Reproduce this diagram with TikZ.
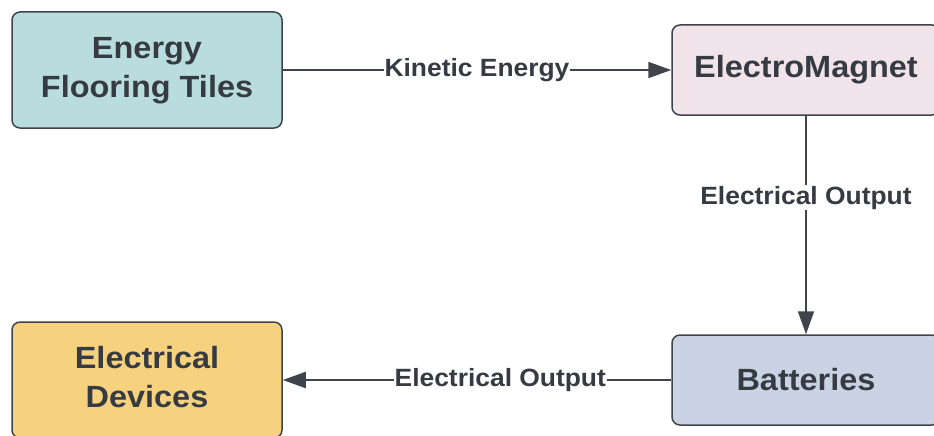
\documentclass[tikz,border=0pt]{standalone}
\usepackage{fontspec}
\setmainfont{Liberation Sans}
\usetikzlibrary{arrows.meta}
\definecolor{tealfill}{HTML}{B9DDDE}
\definecolor{pinkfill}{HTML}{F0E4EA}
\definecolor{yellowfill}{HTML}{F6D27F}
\definecolor{bluefill}{HTML}{CAD3E4}
\definecolor{edgegray}{HTML}{3F444C}
\definecolor{txtgray}{HTML}{363A42}
\newcommand{\hstretch}[1]{\scalebox{1.1}[1.04]{#1}}
\tikzset{
  box/.style={draw=edgegray, line width=1.5pt, rounded corners=8pt, text=txtgray,
    font=\fontsize{29.5}{38}\selectfont\bfseries, align=center, inner sep=0pt},
  conn/.style={draw=edgegray, line width=2pt, -{Triangle[length=23pt,width=16pt]}},
  lbl/.style={fill=white, text=txtgray, inner sep=1pt, font=\fontsize{24}{28}\selectfont\bfseries}
}
\begin{document}
\begin{tikzpicture}[x=1pt,y=-1pt]
\useasboundingbox (0,0) rectangle (934,436);
\clip (0,0) rectangle (934,436);
\node[box, fill=tealfill, minimum width=270pt, minimum height=116pt] (A) at (147,70)
  {\hstretch{\begin{tabular}{@{}c@{}}Energy\\Flooring Tiles\end{tabular}}};
\node[box, fill=pinkfill, minimum width=268pt, minimum height=90pt] (B) at (806,70)
  {\hstretch{ElectroMagnet}};
\node[box, fill=bluefill, minimum width=268pt, minimum height=90pt] (D) at (806,380)
  {\hstretch{Batteries}};
\node[box, fill=yellowfill, minimum width=270pt, minimum height=116pt] (C) at (147,380)
  {\hstretch{\begin{tabular}{@{}c@{}}Electrical\\Devices\end{tabular}}};
\draw[conn] (A.east) -- node[lbl, pos=0.5] {\hstretch{Kinetic Energy}} (B.west);
\draw[conn] (B.south) -- node[lbl, pos=0.375] {\hstretch{Electrical Output}} (D.north);
\draw[conn] (D.west) -- node[lbl, pos=0.44] {\hstretch{Electrical Output}} (C.east);
\end{tikzpicture}
\end{document}
